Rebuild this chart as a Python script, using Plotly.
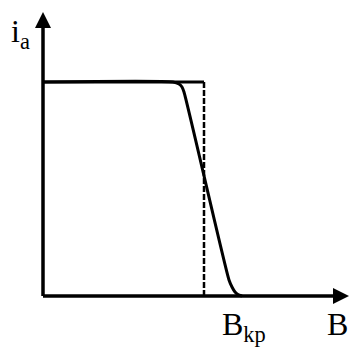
import plotly.graph_objects as go

# Data (origin of the axes at 0,0; units ~ pixels)
curve_x = [0, 130, 136, 139, 141, 186, 189, 192, 195, 199]
curve_y = [214, 214, 212, 209, 204, 16, 9, 4, 1.5, 0]
ideal_x = [0, 161, 161]
ideal_y = [214, 214, 0]
B_kp = 161
i_max = 214
x_axis_end = 306
y_axis_end = 284

fig = go.Figure()

# axes
fig.add_trace(go.Scatter(x=[0, x_axis_end - 10], y=[0, 0], mode="lines",
                         line=dict(color="black", width=3.5), hoverinfo="skip"))
fig.add_trace(go.Scatter(x=[0, 0], y=[0, y_axis_end - 10], mode="lines",
                         line=dict(color="black", width=3.5), hoverinfo="skip"))
# ideal characteristic: solid top, dashed vertical
fig.add_trace(go.Scatter(x=ideal_x[:2], y=ideal_y[:2], mode="lines",
                         line=dict(color="black", width=3), hoverinfo="skip"))
fig.add_trace(go.Scatter(x=ideal_x[1:], y=ideal_y[1:], mode="lines",
                         line=dict(color="black", width=2.5, dash="6px,2px"), hoverinfo="skip"))
# real characteristic
fig.add_trace(go.Scatter(x=curve_x, y=curve_y, mode="lines",
                         line=dict(color="black", width=3, shape="spline", smoothing=0.6),
                         hoverinfo="skip"))

# arrowheads
ah_len, ah_half = 16, 8
fig.add_shape(type="path",
              path=f"M {x_axis_end},0 L {x_axis_end-ah_len},{ah_half} L {x_axis_end-ah_len},{-ah_half} Z",
              fillcolor="black", line=dict(width=0), xref="x", yref="y")
fig.add_shape(type="path",
              path=f"M 0,{y_axis_end} L {-ah_half},{y_axis_end-ah_len} L {ah_half},{y_axis_end-ah_len} Z",
              fillcolor="black", line=dict(width=0), xref="x", yref="y")

font = dict(family="Liberation Serif, Times New Roman, serif", size=32, color="black")
fig.add_annotation(x=-23, y=263, text="i<sub>a</sub>", showarrow=False, font=font,
                   xanchor="center", yanchor="middle")
fig.add_annotation(x=B_kp + 40, y=-30, text="B<sub>kp</sub>", showarrow=False, font=font,
                   xanchor="center", yanchor="middle")
fig.add_annotation(x=x_axis_end - 12, y=-28, text="B", showarrow=False, font=font,
                   xanchor="center", yanchor="middle")

fig.update_layout(
    width=351, height=347, margin=dict(l=0, r=0, t=0, b=0),
    paper_bgcolor="white", plot_bgcolor="white", showlegend=False,
    xaxis=dict(range=[-43, 308], visible=False, fixedrange=True),
    yaxis=dict(range=[-51, 296], visible=False, fixedrange=True),
)
fig.write_html("out.html", config={"displayModeBar": False},
               post_script="document.body.style.margin='0';")
